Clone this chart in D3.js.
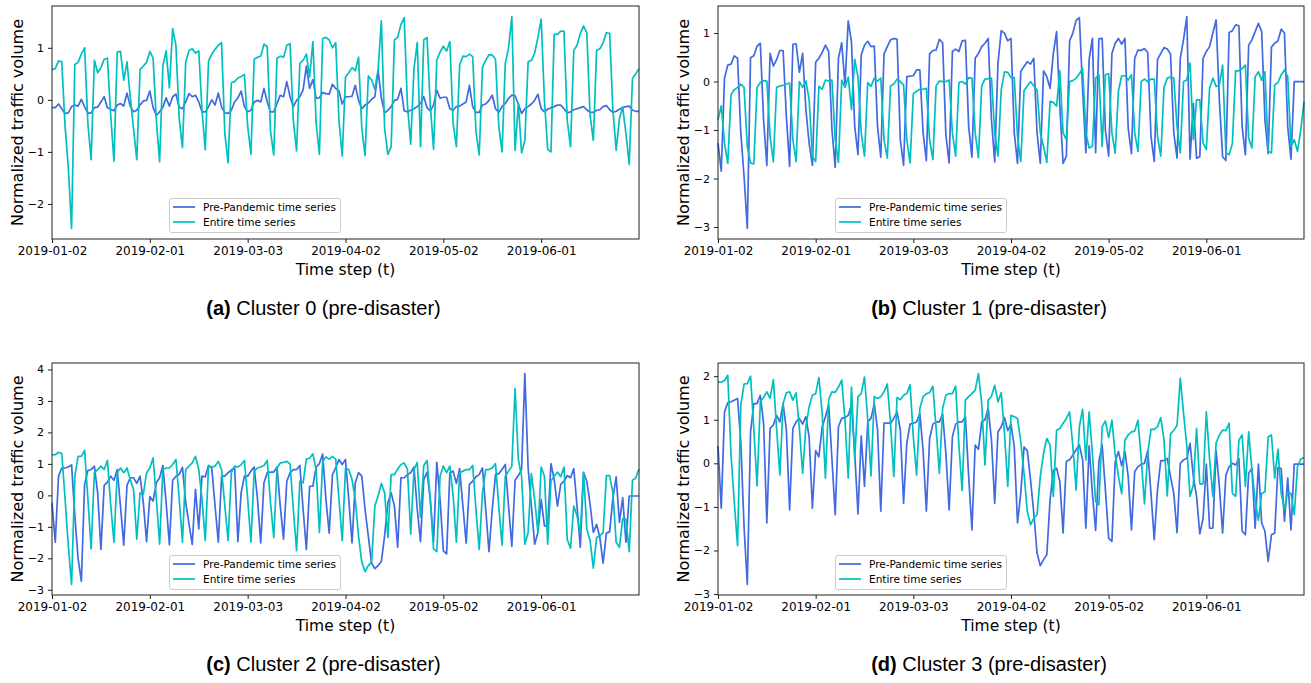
<!DOCTYPE html>
<html>
<head>
<meta charset="utf-8">
<script src="https://cdn.jsdelivr.net/npm/d3@7"></script>
<style>
  body { margin: 0; background: #fff; }
  svg text { font-family: "DejaVu Sans", sans-serif; fill: #000; }
</style>
</head>
<body>
<div id="elements"></div>
<script>
// daily samples, first day below
var startDate = "2019-01-02";
var tickLabels = ["2019-01-02", "2019-02-01", "2019-03-03", "2019-04-02", "2019-05-02", "2019-06-01"];
var seriesNames = ["Pre-Pandemic time series", "Entire time series"];
var panelTags = ["(a)", "(b)", "(c)", "(d)"];
var panelTitles = ["Cluster 0 (pre-disaster)", "Cluster 1 (pre-disaster)", "Cluster 2 (pre-disaster)", "Cluster 3 (pre-disaster)"];

var cluster0Pre = [
  -0.15, -0.15, -0.08, -0.17, -0.26, -0.25, -0.13, -0.1, -0.12, 0.01,
  -0.13, -0.26, -0.25, -0.15, -0.14, -0.04, 0.06, -0.15, -0.18, -0.21,
  -0.1, -0.07, -0.12, 0.13, -0.12, -0.23, -0.2, -0.1, -0.02, -0.01,
  0.17, -0.15, -0.3, -0.23, -0.14, 0.04, -0.12, 0.06, 0.11, -0.14,
  -0.17, -0.04, 0.12, 0.06, 0.09, -0.04, -0.23, -0.23, -0.13, 0.0,
  -0.1, 0.13, -0.14, -0.25, -0.26, -0.2, -0.04, 0.04, 0.17, -0.13,
  -0.23, -0.2, -0.04, -0.01, -0.04, 0.22, -0.04, -0.23, -0.23, -0.07,
  0.09, 0.06, 0.35, 0.06, -0.13, -0.01, 0.06, 0.19, 0.65, 0.22,
  0.39, 0.03, 0.04, 0.14, 0.12, 0.11, 0.3, 0.22, 0.17, -0.08,
  0.06, 0.06, 0.07, 0.28, -0.01, -0.17, -0.1, -0.06, 0.01, 0.06,
  0.56, 0.03, -0.25, -0.2, -0.13, -0.01, 0.01, 0.22, -0.21, -0.23,
  -0.2, -0.17, -0.13, -0.07, 0.06, -0.15, -0.21, -0.1, 0.19, 0.03,
  0.05, 0.05, -0.17, -0.2, -0.13, -0.12, -0.08, -0.04, 0.28, -0.13,
  -0.24, -0.24, -0.1, -0.08, -0.01, 0.09, -0.17, -0.24, -0.13, -0.07,
  0.03, 0.09, 0.08, -0.08, -0.26, -0.17, -0.13, -0.08, -0.01, 0.11,
  -0.17, -0.23, -0.18, -0.15, -0.13, -0.1, -0.1, -0.17, -0.25, -0.23,
  -0.19, -0.17, -0.15, -0.13, -0.19, -0.24, -0.24, -0.2, -0.19, -0.13,
  -0.11, -0.19, -0.24, -0.22, -0.18, -0.15, -0.13, -0.12, -0.2, -0.22,
  -0.22
];
var cluster0Entire = [
  0.58, 0.60, 0.75, 0.73, -0.5, -1.3, -2.47, 0.68, 0.72, 0.88,
  1.0, -0.45, -1.15, 0.76, 0.52, 0.62, 0.78, 0.8, -0.3, -1.18,
  0.92, 0.93, 0.38, 0.73, 0.05, -0.55, -1.15, 0.58, 0.65, 0.72,
  0.93, 0.8, -0.4, -1.19, 0.65, 0.94, 0.23, 1.37, 1.05, -0.35,
  -0.92, 0.72, 0.95, 0.98, 0.9, 0.94, -0.2, -0.96, 0.75, 0.88,
  0.97, 1.05, 1.1, -0.65, -1.21, 0.33, 0.35, 0.42, 0.45, 0.49,
  -0.5, -1.05, 0.78, 0.82, 0.84, 1.07, 1.02, -0.6, -1.06, 0.8,
  0.84, 0.82, 1.05, 1.08, -0.4, -0.98, 0.7, 0.76, 0.88, 0.44,
  1.12, -0.45, -1.05, 1.18, 1.2, 1.15, 1.0, 1.1, -0.4, -1.08,
  0.44, 0.52, 0.62, 0.56, 0.82, -0.55, -1.07, 0.46, 0.38, 0.2,
  0.58, 1.52, -0.55, -1.05, -0.9, 1.15, 1.2, 1.45, 1.58, -0.1,
  -0.85, 0.6, 1.1, -0.9, 1.15, 1.2, -0.1, -0.95, 0.76, 0.92,
  1.03, 0.94, 1.12, -0.45, -0.9, 0.67, 0.84, 0.83, 0.88, 0.83,
  -0.6, -1.06, 0.63, 0.76, 0.87, 0.86, 0.78, -0.5, -1.0, 0.7,
  1.0, 1.6, -0.97, -0.07, -1.02, -0.78, 0.73, 0.76, 0.9, 1.2,
  1.55, 0.0, -0.95, -1.0, 1.26, 1.26, 1.32, 1.32, -0.4, -0.9,
  0.95, 1.05, 1.27, 1.42, 1.28, -0.3, -0.78, 0.95, 0.98, 1.1,
  1.29, 1.28, -0.2, -0.97, -0.36, -0.14, -0.65, -1.24, 0.41, 0.5,
  0.6
];

var cluster1Pre = [
  -1.27, -1.85, 0.07, 0.34, 0.36, 0.53, 0.48, -1.06, -1.95, -3.03,
  0.49, 0.53, 0.73, 0.79, -0.79, -1.73, 0.58, 0.32, 0.45, 0.64,
  0.64, -0.72, -1.75, 0.77, 0.78, 0.19, 0.58, -0.58, -1.28, -1.73,
  0.4, 0.48, 0.6, 0.75, 0.62, -0.99, -1.77, 0.48, 0.8, -0.07,
  1.25, 0.82, -0.93, -1.51, 0.55, 0.75, 0.83, 0.72, 0.73, -0.93,
  -1.56, 0.57, 0.72, 0.86, 0.89, 0.87, -1.2, -1.73, 0.1, 0.11,
  0.12, 0.24, 0.24, -1.06, -1.63, 0.57, 0.64, 0.65, 0.87, 0.8,
  -1.1, -1.68, 0.62, 0.67, 0.62, 0.84, 0.85, -0.93, -1.56, 0.48,
  0.58, 0.72, 0.79, 0.89, -0.79, -1.66, 0.38, 1.05, 1.0, 0.84,
  0.89, -1.06, -1.69, 0.21, 0.31, 0.41, 0.36, 0.48, -1.06, -1.69,
  0.22, 0.1, -0.14, 0.58, 1.03, -0.51, -1.69, -1.54, 0.84, 1.0,
  1.26, 1.32, -0.17, -1.47, 0.45, 0.89, -1.47, 0.88, 0.89, -1.01,
  -1.54, 0.58, 0.79, 0.89, 0.77, 0.89, -0.96, -1.49, 0.48, 0.65,
  0.64, 0.68, 0.6, -1.13, -1.65, 0.45, 0.58, 0.7, 0.67, 0.57,
  -1.06, -1.58, 0.48, 0.87, 1.34, -1.6, -0.45, -1.58, -1.55, 0.48,
  0.62, 0.72, 1.0, 1.27, -0.38, -1.55, -1.63, 1.01, 1.05, 1.17,
  1.15, -0.93, -1.51, 0.75, 0.86, 1.03, 1.2, 1.03, -0.79, -1.49,
  0.71, 0.79, 0.84, 1.08, 1.0, -0.93, -1.6, 0.0, 0.0, 0.0,
  0.0
];
var cluster1Entire = [
  -0.79, -0.5, -1.27, -1.69, -0.27, -0.17, -0.12, -0.05, -0.12, -1.34,
  -1.68, -1.7, -0.12, -0.02, 0.02, 0.01, -1.13, -1.66, -0.12, -0.09,
  -0.08, -0.05, -0.03, -1.2, -1.65, 0.0, -0.12, 0.01, -0.38, -1.55,
  -1.65, -0.1, -0.16, 0.03, 0.01, 0.03, -1.2, -1.67, 0.03, -0.12,
  0.09, -0.58, 0.46, 0.09, -1.06, -1.54, -0.02, -0.1, 0.07, 0.01,
  0.07, -1.2, -1.58, -0.09, -0.05, 0.05, 0.0, -0.07, -1.2, -1.68,
  -0.25, -0.2, -0.16, -0.16, -0.14, -1.2, -1.61, -0.09, 0.01, 0.0,
  0.0, 0.03, -1.06, -1.54, -0.02, 0.0, -0.05, 0.08, 0.07, -1.06,
  -1.57, -0.09, 0.05, 0.06, 0.07, -1.06, -1.54, -0.17, 0.2, 0.19,
  0.08, 0.08, -1.13, -1.65, -0.19, -0.09, 0.0, -0.09, -0.17, -1.06,
  -1.34, -1.67, -0.41, -0.43, -0.51, 0.22, -1.06, -1.2, 0.0, 0.02,
  0.07, 0.16, 0.27, -1.06, -1.37, -1.34, 0.07, 0.14, -1.34, 0.14,
  0.16, -1.06, -1.48, -0.2, 0.12, 0.12, 0.03, 0.14, -1.06, -1.44,
  0.0, 0.05, 0.0, 0.05, 0.05, -1.13, -1.54, -0.12, 0.07, 0.09,
  0.07, -0.93, -1.47, 0.0, 0.03, 0.38, -1.2, -0.38, -0.38, -1.27,
  -1.4, -0.14, 0.07, -0.1, -0.07, 0.34, -1.47, -1.51, -1.28, 0.22,
  0.22, 0.27, 0.34, -1.17, -1.37, 0.1, 0.2, 0.03, 0.2, -1.44,
  -1.47, -0.07, -0.02, 0.14, 0.24, 0.1, -1.34, -1.2, -1.44, -1.0,
  -0.42
];

var cluster2Pre = [
  -0.23, -1.49, 0.61, 0.87, 0.87, 0.9, 0.97, -0.65, -2.0, -2.73,
  0.35, 0.79, 0.82, 0.93, 0.08, -1.72, 0.32, 0.42, 0.61, 0.48,
  0.82, -0.34, -1.58, 0.32, 0.56, 0.56, 0.38, 0.61, -0.23, -1.47,
  -0.04, -0.18, 0.4, 0.56, 0.95, -0.23, -1.57, 0.48, 0.61, 0.66,
  0.89, -0.23, -0.9, -1.56, 0.19, -1.07, 0.61, 0.59, 0.95, 0.87,
  -0.34, -1.49, 0.61, 0.61, 0.72, 0.8, 0.9, -1.47, 0.08, 0.61,
  0.61, 0.77, 0.9, -0.1, -1.51, 0.4, 0.72, 0.74, 0.74, 0.9,
  -0.34, -1.39, 0.45, 0.72, 0.82, 0.82, 0.95, -0.44, -1.72, 0.29,
  0.29, 0.9, 1.01, 1.31, -0.13, -1.2, 0.66, 0.87, 1.14, 0.98,
  1.14, -0.13, -1.51, 0.4, 0.72, 0.61, -0.44, -1.3, -2.15, -2.33,
  -2.23, -2.1, -1.28, -0.23, 0.08, -0.34, -1.65, 0.56, 0.56, 0.66,
  0.72, 0.9, -0.44, -1.47, 0.5, 0.74, -0.13, -1.47, 1.05, -0.13,
  -1.76, -1.86, 0.72, 0.77, 0.38, 0.85, -0.34, -1.52, 0.35, 0.45,
  0.59, 0.66, 0.87, -0.44, -1.79, -0.44, 0.66, 0.69, 0.82, 0.98,
  -0.34, -1.62, 0.48, 0.63, 0.82, 3.87, 0.87, -0.34, -1.55, -1.18,
  -0.13, -0.97, -0.97, 1.01, 0.5, -0.34, 0.35, 0.45, 0.63, 0.56,
  0.85, -0.34, -1.65, 0.72, 0.45, -0.28, -1.18, -0.92, -1.34, -2.15,
  -1.2, -1.16, -0.08, 0.59, -0.86, -0.07, -1.49, -0.02, -0.02, -0.02,
  -0.02
];
var cluster2Entire = [
  1.29, 1.29, 1.37, 1.33, -0.1, -1.6, -2.83, 0.6, 1.24, 1.24,
  1.43, -0.1, -1.7, 0.72, 0.82, 0.93, 0.82, 1.11, -0.3, -1.49,
  0.72, 0.87, 0.72, 0.87, 0.5, 0.19, -1.39, 0.08, 0.03, 0.72,
  0.87, 1.19, -0.1, -1.55, 0.82, 0.87, 0.87, 0.98, 1.14, -0.1,
  -1.49, 0.82, 0.93, 1.03, 1.24, 0.82, -0.12, -1.44, 0.93, 0.9,
  0.93, 1.08, 0.82, -0.34, -1.44, 0.72, 0.93, 0.9, 0.97, 1.11,
  -0.1, -1.49, 0.77, 0.87, 0.9, 0.95, 1.11, -0.23, -1.34, 0.87,
  1.03, 1.05, 1.08, 1.0, -0.44, -1.76, 0.45, 0.4, 1.15, 1.18,
  1.32, 0.82, -1.18, 1.08, 1.22, 1.15, 1.24, 1.15, -0.13, -1.44,
  0.87, 0.82, 0.5, -0.13, -1.3, -2.12, -2.42, -2.23, -2.12, -0.34,
  -0.02, 0.38, 0.08, -1.34, 0.66, 0.66, 0.84, 0.98, 1.03, 0.82,
  -1.23, 0.82, 1.05, -0.7, 0.95, 1.11, -0.13, -1.7, -1.79, 0.61,
  0.93, 0.72, 0.93, 0.0, -1.49, 0.72, 0.77, 0.82, 0.82, 0.95,
  -0.44, -1.72, 0.08, 0.82, 0.82, 0.87, 1.01, -0.34, -1.58, 0.61,
  0.77, 0.93, 3.4, 1.14, 0.61, -1.55, -1.18, 0.69, -0.13, -1.18,
  0.9, 0.61, -1.55, 0.45, 0.61, 0.74, 0.59, 0.9, -1.4, -1.68,
  -0.34, -0.65, -1.2, 0.74, -1.07, -1.44, -2.31, -1.34, -1.28, -1.18,
  0.63, 0.63, 0.08, -1.49, -1.65, -0.74, -0.76, -1.79, 0.48, 0.55,
  0.84
];

var cluster3Pre = [
  0.4, -1.03, 1.18, 1.39, 1.41, 1.45, 1.49, 0.5, -1.45, -2.78,
  0.72, 1.37, 1.37, 1.56, 0.92, -1.37, 0.8, 0.88, 1.1, 0.95,
  1.37, 0.77, -1.07, 0.8, 0.95, 1.03, 0.9, 1.07, 0.6, -1.03,
  0.29, 0.15, 0.84, 1.07, 1.35, 0.1, -1.18, 0.84, 1.03, 1.05,
  1.1, 1.33, 0.23, -1.16, 0.63, -0.53, 0.95, 1.03, 1.37, 0.77,
  -1.1, 0.92, 0.92, 0.92, 1.03, 1.18, 0.77, -0.92, 0.46, 0.9,
  0.92, 0.95, 1.14, 0.3, -1.1, 0.57, 0.9, 0.95, 0.95, 1.13,
  0.23, -1.07, 0.61, 0.9, 0.95, 0.95, 1.07, -0.3, -1.53, 0.42,
  0.32, 0.95, 1.0, 1.26, 0.53, -0.92, 0.72, 0.84, 1.05, 0.75,
  0.9, 0.38, -1.37, -0.69, 0.37, 0.29, -0.38, -1.14, -2.06, -2.35,
  -2.21, -2.1, -0.84, -0.17, -0.11, -0.42, -1.6, 0.04, 0.08, 0.19,
  0.31, 0.42, 0.08, -1.49, 0.4, -0.69, -1.54, 0.04, 0.42, -0.61,
  -1.72, -1.79, 0.04, 0.27, -0.06, 0.27, -0.3, -1.53, -0.19, -0.08,
  -0.02, 0.0, 0.29, -0.69, -1.75, -0.61, 0.06, 0.06, 0.11, -0.3,
  -0.69, -1.59, 0.0, 0.08, 0.11, 0.46, -0.3, -0.76, -1.62, -1.26,
  -0.02, -1.49, -1.49, 0.29, -0.53, -1.6, -0.27, -0.08, 0.0, -0.04,
  0.11, -1.56, -1.64, -0.23, -0.11, -1.49, -0.02, -1.37, -1.56, -2.25,
  -1.64, -1.6, -0.1, -0.12, -1.33, -0.34, -1.53, -0.02, -0.02, -0.02,
  -0.02
];
var cluster3Entire = [
  1.87, 1.86, 1.9, 2.02, 0.2, -0.9, -1.89, 1.33, 1.82, 1.83,
  2.0, 0.8, -0.52, 1.41, 1.51, 1.64, 1.49, 1.92, 0.8, -0.27,
  1.37, 1.62, 1.64, 1.45, 1.62, 0.8, -0.23, 0.84, 1.3, 1.56,
  1.6, 1.97, 1.15, -0.34, 1.47, 1.64, 1.63, 1.75, 1.91, 1.0,
  -0.34, 1.75, 0.08, 1.53, 1.6, 1.98, 1.0, -0.29, 1.53, 1.49,
  1.53, 1.64, 1.82, 0.9, -0.3, 1.51, 1.46, 1.56, 1.6, 1.8,
  0.6, -0.27, 1.26, 1.53, 1.6, 1.62, 1.77, 0.8, -0.23, 1.26,
  1.56, 1.6, 1.6, 1.77, 0.4, -0.63, 1.45, 1.53, 1.6, 1.68,
  2.06, 1.37, -0.04, 1.45, 1.54, 1.79, 1.41, 1.62, 0.7, -0.53,
  1.1, 1.07, 1.03, 0.5, -0.23, -1.1, -1.41, -1.26, -1.18, -0.3,
  0.23, 0.57, 0.42, -0.76, 0.76, 0.8, 0.92, 1.03, 1.18, 0.4,
  -0.61, 0.84, 1.24, 0.08, 1.18, 0.23, -0.88, -0.95, 0.84, 0.97,
  0.59, 0.99, 0.2, -0.3, -0.7, 0.53, 0.65, 0.72, 0.74, 0.99,
  0.1, -0.93, 0.23, 0.78, 0.78, 0.84, 1.05, 0.53, -0.75, 0.67,
  0.76, 0.87, 1.95, 1.15, 0.4, -0.76, -0.5, 0.8, -0.47, -0.47,
  1.18, 0.1, -0.76, 0.47, 0.65, 0.76, 0.75, 0.92, -0.69, -0.76,
  0.53, 0.65, -0.53, 0.72, -0.15, -0.84, -1.31, -0.69, -0.65, 0.61,
  0.65, -0.34, 0.32, -0.69, -1.07, -0.65, -0.69, -1.18, -0.08, 0.1,
  0.13
];

var preSeries = [cluster0Pre, cluster1Pre, cluster2Pre, cluster3Pre];
var entireSeries = [cluster0Entire, cluster1Entire, cluster2Entire, cluster3Entire];
var seriesColors = ["#4169e1", "#00bfbf"];

var W = 1311, H = 683;
// plot boxes: [left, top, right, bottom]
var boxes = [[52, 6, 639, 239], [718, 6, 1304, 239], [52, 363, 639, 595], [718, 363, 1304, 595]];

var parseDay = d3.utcParse("%Y-%m-%d");
var day0 = parseDay(startDate);
var tickDates = tickLabels.map(parseDay);

var svg = d3.select("#elements").append("svg")
    .attr("width", W)
    .attr("height", H);

boxes.forEach(function(b, k) {
    var left = b[0], top = b[1], right = b[2], bottom = b[3];
    var series = [preSeries[k], entireSeries[k]];
    var n = d3.max(series, function(s) { return s.length; });
    var dateAt = function(i) { return d3.utcDay.offset(day0, i); };

    var x = d3.scaleUtc()
        .domain([day0, dateAt(n - 1)])
        .range([left, right]);

    // matplotlib-like 5% margin on y
    var lo = d3.min(series, function(s) { return d3.min(s); }),
        hi = d3.max(series, function(s) { return d3.max(s); }),
        pad = (hi - lo) * 0.05;
    var y = d3.scaleLinear()
        .domain([lo - pad, hi + pad])
        .range([bottom, top]);

    var g = svg.append("g");

    var line = d3.line()
        .x(function(d, i) { return x(dateAt(i)); })
        .y(function(d) { return y(d); });

    series.forEach(function(s, j) {
        g.append("path")
            .datum(s)
            .attr("d", line)
            .attr("fill", "none")
            .attr("stroke", seriesColors[j])
            .attr("stroke-width", 1.7)
            .attr("stroke-linejoin", "round");
    });

    // axes
    var xAxis = d3.axisBottom(x)
        .tickValues(tickDates)
        .tickFormat(d3.utcFormat("%Y-%m-%d"))
        .tickSize(4)
        .tickPadding(3);
    var gx = g.append("g")
        .attr("transform", "translate(0," + bottom + ")")
        .call(xAxis);
    gx.select(".domain").remove();
    gx.selectAll("text").style("font-size", "12px").attr("fill", "#000");
    gx.selectAll("line").attr("stroke", "#000").attr("stroke-width", 0.9);

    var yTicks = d3.range(Math.ceil(lo - pad), Math.floor(hi + pad) + 1);
    var yAxis = d3.axisLeft(y)
        .tickValues(yTicks)
        .tickFormat(d3.format("d"))
        .tickSize(4)
        .tickPadding(4);
    var gy = g.append("g")
        .attr("transform", "translate(" + left + ",0)")
        .call(yAxis);
    gy.select(".domain").remove();
    gy.selectAll("text").style("font-size", "11px").attr("fill", "#000");
    gy.selectAll("line").attr("stroke", "#000").attr("stroke-width", 0.9);

    // frame
    g.append("rect")
        .attr("x", left)
        .attr("y", top)
        .attr("width", right - left)
        .attr("height", bottom - top)
        .attr("fill", "none")
        .attr("stroke", "#222")
        .attr("stroke-width", 1);

    // axis labels
    g.append("text")
        .attr("x", (left + right) / 2)
        .attr("y", bottom + 36)
        .attr("text-anchor", "middle")
        .style("font-size", "15.5px")
        .text("Time step (t)");

    g.append("text")
        .attr("transform", "translate(" + (left - 29) + "," + ((top + bottom) / 2) + ") rotate(-90)")
        .attr("text-anchor", "middle")
        .style("font-size", "16px")
        .text("Normalized traffic volume");

    // legend
    var lx = left + 117, ly = top + 192;
    var lg = g.append("g").attr("transform", "translate(" + lx + "," + ly + ")");
    lg.append("rect")
        .attr("x", 0.5).attr("y", 0.5)
        .attr("width", 171).attr("height", 34)
        .attr("rx", 2.5)
        .attr("fill", "#fff").attr("fill-opacity", 0.8)
        .attr("stroke", "#cccccc").attr("stroke-width", 1);
    seriesNames.forEach(function(name, j) {
        var yy = 9 + j * 15;
        lg.append("line")
            .attr("x1", 4).attr("x2", 26)
            .attr("y1", yy).attr("y2", yy)
            .attr("stroke", seriesColors[j])
            .attr("stroke-width", 1.7);
        lg.append("text")
            .attr("x", 34).attr("y", yy)
            .attr("dy", "0.35em")
            .style("font-size", "10.5px")
            .text(name);
    });

    // caption
    var cap = svg.append("text")
        .attr("x", (left + right) / 2 - 22)
        .attr("y", bottom + 76)
        .attr("text-anchor", "middle")
        .style("font-family", "'Liberation Sans', Arial, sans-serif")
        .style("font-size", "20px");
    cap.append("tspan").style("font-weight", "bold").text(panelTags[k]);
    cap.append("tspan").text(" " + panelTitles[k]);
});
</script>
</body>
</html>
